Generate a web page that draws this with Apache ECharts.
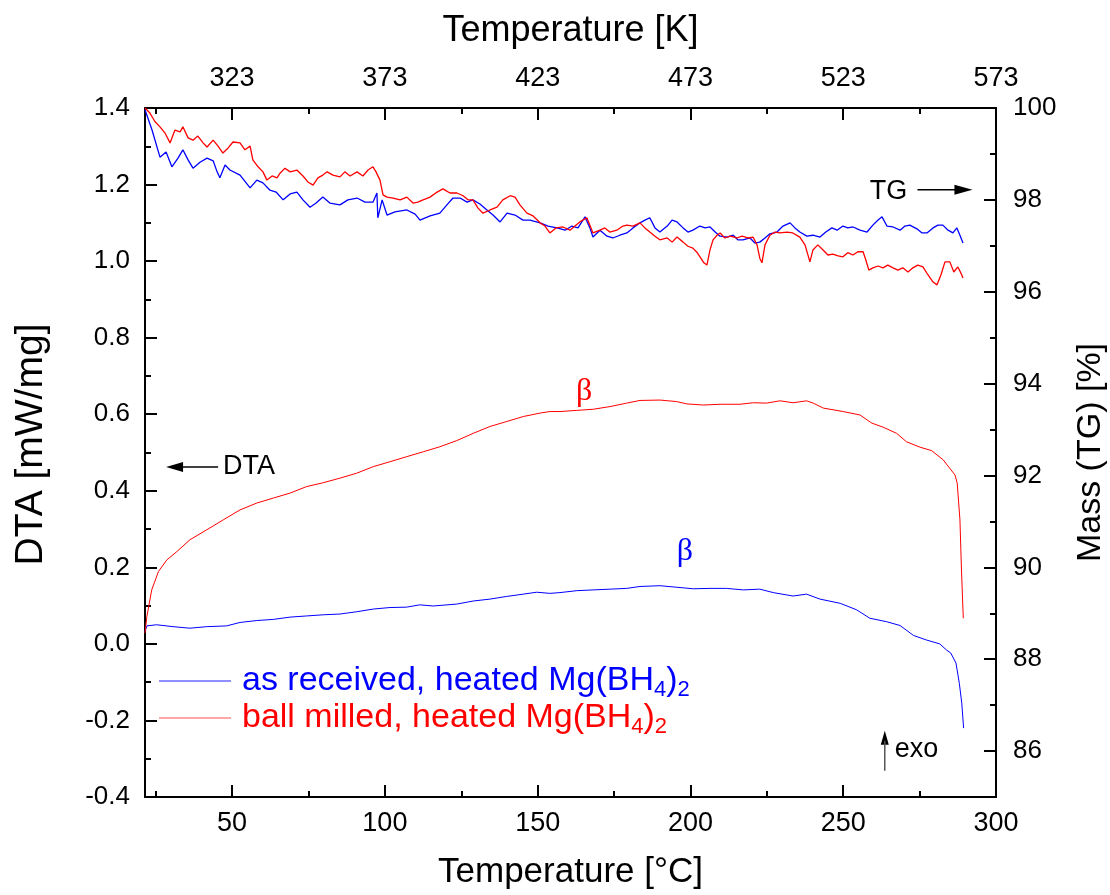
<!DOCTYPE html>
<html><head><meta charset="utf-8">
<script src="https://cdn.jsdelivr.net/npm/echarts@6/dist/echarts.min.js"></script>
<style>html,body{margin:0;padding:0;background:#fff}#c{width:1110px;height:895px}</style>
</head><body><div id="c"></div>
<script>
// ---------- data ----------
const tgAsReceivedT = [21.5,23.8,26.4,28.4,30.3,32.3,33.9,35.6,37.2,39.5,41.8,43.8,45.1,46.0,47.7,49.3,52.6,55.9,58.1,60.1,62.4,64.4,66.7,69.0,71.2,73.2,75.5,77.5,79.7,82.0,85.3,87.9,90.9,93.5,96.1,97.4,97.7,99.1,100.7,103.3,107.2,109.9,111.5,114.8,118.0,120.3,122.3,124.6,126.9,128.8,131.1,133.4,135.4,137.7,140.0,142.6,145.2,147.5,150.8,153.4,156.3,159.0,161.2,163.2,165.5,167.1,168.1,170.4,172.7,174.6,176.9,179.2,181.2,183.5,185.1,186.7,188.4,190.0,192.4,194.0,195.6,197.6,199.2,200.8,203.1,204.8,206.4,208.1,209.7,212.0,214.0,215.5,217.2,219.5,221.1,222.7,224.4,226.0,228.3,230.3,232.6,234.2,235.8,238.1,240.1,242.4,244.3,246.3,248.0,249.9,251.5,253.2,255.5,257.8,259.7,261.4,262.7,264.3,266.3,268.6,270.2,271.8,274.1,275.8,277.4,279.4,281.0,282.6,284.3,285.9,287.2,288.2,289.2];
const tgAsReceivedMass = [99.96,99.52,98.93,99.04,98.72,98.91,99.09,98.87,98.69,98.82,98.91,98.85,98.61,98.48,98.76,98.65,98.54,98.26,98.43,98.37,98.21,98.17,98.00,98.13,98.17,98.00,97.84,97.93,98.06,97.93,97.89,98.00,98.04,97.95,97.95,98.15,97.61,98.00,97.67,97.74,97.78,97.69,97.56,97.65,97.71,97.89,98.04,98.04,97.95,98.00,97.91,97.78,97.67,97.52,97.71,97.67,97.56,97.56,97.50,97.43,97.39,97.34,97.43,97.39,97.63,97.39,97.19,97.34,97.21,97.17,97.23,97.28,97.39,97.50,97.56,97.61,97.39,97.30,97.43,97.56,97.52,97.39,97.30,97.34,97.43,97.39,97.41,97.30,97.21,97.19,97.23,97.13,97.13,97.17,97.06,97.08,97.17,97.26,97.30,97.43,97.50,97.39,97.30,97.21,97.23,97.19,97.30,97.39,97.34,97.43,97.39,97.41,97.34,97.30,97.45,97.56,97.63,97.43,97.41,97.34,97.43,97.45,97.37,97.28,97.28,97.39,97.45,97.45,97.34,97.28,97.39,97.23,97.06];
const tgBallMilledT = [21.5,23.1,24.8,26.4,28.0,29.7,31.3,33.0,33.9,35.6,37.2,38.8,40.5,41.8,43.8,45.4,47.0,48.7,50.3,52.6,54.2,55.9,56.8,58.5,60.1,61.4,63.1,64.7,65.7,67.3,69.0,71.2,73.2,74.8,76.5,78.1,79.7,81.1,83.0,85.3,86.9,88.6,90.9,92.8,94.5,96.1,97.1,98.4,99.4,100.7,102.7,105.0,107.2,109.2,110.8,112.5,114.8,117.1,119.0,121.3,123.6,125.6,127.2,128.8,130.5,132.1,134.4,136.7,138.6,141.0,142.6,144.2,146.5,148.5,150.8,152.4,154.0,156.0,158.3,160.6,162.2,163.8,166.1,167.1,168.1,170.4,172.0,173.6,175.9,177.9,179.2,181.2,183.5,185.1,186.7,188.4,190.0,192.4,194.0,195.6,197.6,199.2,200.8,202.1,203.4,204.4,205.4,206.4,207.4,208.7,209.7,211.3,213.0,215.2,216.9,218.8,220.5,221.8,222.7,223.4,224.4,226.0,227.7,229.3,231.6,233.5,235.8,237.5,239.1,240.1,241.7,243.4,245.0,246.6,248.3,249.9,251.5,253.2,254.8,256.5,257.4,258.4,259.7,261.4,263.0,264.6,266.3,267.9,269.5,271.2,272.8,274.4,276.1,277.7,279.4,280.7,282.0,283.3,284.9,286.2,287.5,288.5,289.2];
const tgBallMilledMass = [100.0,99.89,99.70,99.59,99.46,99.24,99.52,99.48,99.59,99.35,99.30,99.39,99.24,99.15,99.30,99.17,99.02,99.13,99.26,99.24,99.09,99.17,98.87,98.72,98.61,98.43,98.52,98.48,98.58,98.69,98.61,98.65,98.52,98.39,98.32,98.48,98.54,98.61,98.54,98.50,98.61,98.52,98.61,98.52,98.65,98.72,98.61,98.43,98.11,98.06,98.04,98.00,98.06,97.93,97.95,98.00,98.06,98.17,98.24,98.15,98.15,98.09,98.00,98.00,97.82,97.71,97.78,97.84,98.00,98.09,98.06,97.89,97.71,97.65,97.50,97.43,97.28,97.39,97.41,97.34,97.43,97.52,97.61,97.45,97.28,97.34,97.39,97.30,97.34,97.43,97.45,97.43,97.50,97.39,97.30,97.21,97.13,97.17,97.08,97.19,97.08,96.99,96.95,96.86,96.73,96.63,96.58,96.91,97.13,97.23,97.28,97.17,97.21,97.17,97.21,97.17,97.19,97.02,96.73,96.63,97.02,97.23,97.30,97.28,97.30,97.28,97.19,97.02,96.65,96.91,97.02,96.91,96.80,96.82,96.78,96.76,96.85,96.80,96.87,96.87,96.69,96.47,96.52,96.56,96.52,96.58,96.52,96.47,96.52,96.43,96.52,96.58,96.54,96.37,96.21,96.15,96.37,96.65,96.65,96.43,96.54,96.41,96.30];
const dtaAsReceivedT = [21.5,22.1,25.3,30.7,36.2,41.7,48.2,52.6,58.1,63.5,69.0,74.4,79.8,85.3,90.8,96.2,101.7,107.1,111.4,115.8,123.5,128.9,134.4,139.9,145.3,149.7,154.0,157.3,162.8,168.2,173.7,179.1,183.5,190.0,195.5,200.9,206.4,211.8,217.3,222.7,227.1,233.6,238.0,242.4,249.0,254.4,258.7,264.2,268.6,273.0,277.3,281.6,283.8,285.2,286.9,288.0,288.8,289.4];
const dtaAsReceivedVal = [0.032,0.047,0.050,0.045,0.041,0.045,0.047,0.056,0.061,0.064,0.070,0.073,0.076,0.078,0.084,0.091,0.095,0.096,0.102,0.099,0.104,0.112,0.117,0.124,0.130,0.135,0.132,0.134,0.139,0.141,0.143,0.145,0.150,0.152,0.148,0.144,0.145,0.145,0.141,0.143,0.134,0.125,0.130,0.117,0.106,0.089,0.067,0.058,0.048,0.022,0.010,0.000,-0.016,-0.024,-0.050,-0.103,-0.155,-0.220];
const dtaBallMilledT = [21.5,22.1,23.7,25.9,28.6,31.9,36.2,41.7,47.1,52.6,58.1,63.5,69.0,74.4,79.8,85.3,90.8,96.2,101.7,107.1,112.6,118.0,123.5,128.9,134.4,139.9,145.3,150.8,154.0,157.3,162.8,168.2,173.7,179.1,183.5,190.0,195.5,198.8,204.2,209.7,216.2,220.6,224.9,229.3,233.6,238.0,240.2,243.5,250.0,255.5,259.3,263.1,267.5,270.7,275.1,278.9,282.7,286.6,287.3,288.2,288.7,289.3];
const dtaBallMilledVal = [0.028,0.071,0.141,0.189,0.219,0.241,0.272,0.298,0.324,0.350,0.368,0.381,0.394,0.411,0.421,0.433,0.446,0.463,0.476,0.489,0.502,0.515,0.531,0.550,0.568,0.581,0.594,0.603,0.607,0.607,0.610,0.613,0.620,0.629,0.636,0.637,0.633,0.627,0.624,0.626,0.626,0.630,0.629,0.635,0.630,0.635,0.629,0.616,0.607,0.598,0.577,0.566,0.550,0.528,0.514,0.505,0.481,0.441,0.420,0.324,0.193,0.067];
const celsiusTicks = [50,100,150,200,250,300];
const celsiusMinorTicks = [25,75,125,175,225,275];
const massTicks = [86,88,90,92,94,96,98,100];
const massMinorTicks = [85,87,89,91,93,95,97,99];
const legendNames = ['as received, heated Mg(BH4)2','ball milled, heated Mg(BH4)2'];
const KELVIN_OFFSET = 273;

// ---------- chart ----------
const FONT = '"Liberation Sans", Arial, sans-serif';
const BLUE = '#0000ff', RED = '#ff0000';
const X_MIN = 21.5, X_MAX = 300;
const zip = (a, b) => a.map((v, i) => [v, b[i]]);
const axisLine = {onZero: false, lineStyle: {color: '#000', width: 2}};
const tickStyle = {color: '#000', width: 2};
const yLabelStyle = {color: '#000', fontSize: 26, fontFamily: FONT};
const xLabelStyle = {color: '#000', fontSize: 27, fontFamily: FONT};

const chart = echarts.init(document.getElementById('c'), null, {renderer: 'canvas'});
const option = {
  animation: false,
  backgroundColor: '#fff',
  grid: {left: 145, right: 114, top: 108, bottom: 98, containLabel: false, outerBoundsMode: 'none'},
  xAxis: [
    {type: 'value', position: 'bottom', min: X_MIN, max: X_MAX, axisLine,
     splitLine: {show: false},
     axisTick: {inside: true, length: 12, customValues: celsiusTicks, lineStyle: tickStyle},
     axisLabel: Object.assign({customValues: celsiusTicks, margin: 13}, xLabelStyle),
     name: 'Temperature [°C]', nameLocation: 'middle', nameGap: 58,
     nameTextStyle: {color: '#000', fontSize: 35, fontFamily: FONT}},
    {type: 'value', position: 'bottom', min: X_MIN, max: X_MAX,
     axisLine: {show: false, onZero: false}, splitLine: {show: false},
     axisTick: {inside: true, length: 6, customValues: celsiusMinorTicks, lineStyle: tickStyle},
     axisLabel: {show: false}},
    {type: 'value', position: 'top', min: X_MIN, max: X_MAX, axisLine,
     splitLine: {show: false},
     axisTick: {inside: true, length: 12, customValues: celsiusTicks, lineStyle: tickStyle},
     axisLabel: Object.assign({customValues: celsiusTicks, margin: 16,
       formatter: v => String(Math.round(v + KELVIN_OFFSET))}, xLabelStyle),
     name: 'Temperature [K]', nameLocation: 'middle', nameGap: 59,
     nameTextStyle: {color: '#000', fontSize: 36, fontFamily: FONT}},
    {type: 'value', position: 'top', min: X_MIN, max: X_MAX,
     axisLine: {show: false, onZero: false}, splitLine: {show: false},
     axisTick: {inside: true, length: 6, customValues: celsiusMinorTicks, lineStyle: tickStyle},
     axisLabel: {show: false}}
  ],
  yAxis: [
    {type: 'value', position: 'left', min: -0.4, max: 1.4, interval: 0.2, axisLine,
     splitLine: {show: false},
     axisTick: {inside: true, length: 12, lineStyle: tickStyle},
     minorTick: {show: true, splitNumber: 2, length: 6, lineStyle: tickStyle},
     minorSplitLine: {show: false},
     axisLabel: Object.assign({margin: 15,
       formatter: v => (Math.abs(v) < 1e-9 ? 0 : v).toFixed(1)}, yLabelStyle),
     name: 'DTA [mW/mg]', nameLocation: 'middle', nameGap: 94,
     nameTextStyle: {color: '#000', fontSize: 39, fontFamily: FONT, padding: [0, 0, 0, 16]}},
    {type: 'value', position: 'right', min: 85, max: 100, axisLine,
     splitLine: {show: false},
     axisTick: {inside: true, length: 12, customValues: massTicks, lineStyle: tickStyle},
     axisLabel: Object.assign({customValues: massTicks, margin: 17}, yLabelStyle),
     name: 'Mass (TG) [%]', nameLocation: 'middle', nameGap: 78,
     nameTextStyle: {color: '#000', fontSize: 34, fontFamily: FONT}},
    {type: 'value', position: 'right', min: 85, max: 100,
     axisLine: {show: false, onZero: false}, splitLine: {show: false},
     axisTick: {inside: true, length: 6, customValues: massMinorTicks, lineStyle: tickStyle},
     axisLabel: {show: false}}
  ],
  legend: {
    data: [
      {name: legendNames[0], icon: 'rect', itemStyle: {color: '#6a6aff'}},
      {name: legendNames[1], icon: 'rect', itemStyle: {color: '#ff8a8a'}}
    ],
    orient: 'vertical', left: 159, top: 664, padding: 0,
    itemWidth: 72, itemHeight: 1.5, itemGap: 0, selectedMode: false,
    formatter: name => name === legendNames[0]
      ? '{g| }{b|as received, heated Mg(BH}{bs|4}{b|)}{bs|2}'
      : '{g| }{r|ball milled, heated Mg(BH}{rs|4}{r|)}{rs|2}',
    textStyle: {fontFamily: FONT, fontSize: 34, rich: {
      g: {width: 6},
      b: {color: BLUE, fontSize: 34, fontFamily: FONT, lineHeight: 40},
      bs: {color: BLUE, fontSize: 22, fontFamily: FONT, lineHeight: 22, verticalAlign: 'bottom'},
      r: {color: RED, fontSize: 34, fontFamily: FONT, lineHeight: 40},
      rs: {color: RED, fontSize: 22, fontFamily: FONT, lineHeight: 22, verticalAlign: 'bottom'}
    }}
  },
  series: [
    {name: 'TG ' + legendNames[0], type: 'line', xAxisIndex: 0, yAxisIndex: 1, symbol: 'none',
     data: zip(tgAsReceivedT, tgAsReceivedMass), lineStyle: {color: BLUE, width: 1.3}, itemStyle: {color: BLUE}},
    {name: 'TG ' + legendNames[1], type: 'line', xAxisIndex: 0, yAxisIndex: 1, symbol: 'none',
     data: zip(tgBallMilledT, tgBallMilledMass), lineStyle: {color: RED, width: 1.3}, itemStyle: {color: RED}},
    {name: legendNames[0], type: 'line', xAxisIndex: 0, yAxisIndex: 0, symbol: 'none',
     data: zip(dtaAsReceivedT, dtaAsReceivedVal), lineStyle: {color: BLUE, width: 1}, itemStyle: {color: BLUE}},
    {name: legendNames[1], type: 'line', xAxisIndex: 0, yAxisIndex: 0, symbol: 'none',
     data: zip(dtaBallMilledT, dtaBallMilledVal), lineStyle: {color: RED, width: 1}, itemStyle: {color: RED}}
  ]
};
chart.setOption(option);

// ---------- annotations, anchored in data coordinates (°C, DTA) ----------
const P = (t, v) => chart.convertToPixel({xAxisIndex: 0, yAxisIndex: 0}, [t, v]);
const annoFont = 'normal 27px ' + FONT;
const g = [];
// TG -> arrow
const tg = P(264.8, 1.181);
g.push({type: 'text', x: tg[0], y: tg[1], style: {text: 'TG', font: annoFont, fill: '#000', align: 'center', verticalAlign: 'middle'}});
g.push({type: 'line', shape: {x1: tg[0] + 29, y1: tg[1] - 2, x2: tg[0] + 70, y2: tg[1] - 2}, style: {stroke: '#000', lineWidth: 1.5}});
g.push({type: 'polygon', shape: {points: [[tg[0] + 84, tg[1] - 2], [tg[0] + 66, tg[1] - 7], [tg[0] + 66, tg[1] + 3]]}, style: {fill: '#000'}});
// <- DTA
const dt = P(28.4, 0.462);
g.push({type: 'polygon', shape: {points: [[dt[0], dt[1]], [dt[0] + 17, dt[1] - 5], [dt[0] + 17, dt[1] + 5]]}, style: {fill: '#000'}});
g.push({type: 'line', shape: {x1: dt[0] + 14, y1: dt[1], x2: dt[0] + 52, y2: dt[1]}, style: {stroke: '#000', lineWidth: 1.5}});
g.push({type: 'text', x: dt[0] + 57, y: dt[1], style: {text: 'DTA', font: annoFont, fill: '#000', align: 'left', verticalAlign: 'middle'}});
// beta labels
const bR = P(165.2, 0.658), bB = P(198.2, 0.240);
g.push({type: 'text', x: bR[0], y: bR[1], style: {text: 'β', font: 'normal 32px "Liberation Serif", serif', fill: RED, align: 'center', verticalAlign: 'middle'}});
g.push({type: 'text', x: bB[0], y: bB[1], style: {text: 'β', font: 'normal 32px "Liberation Serif", serif', fill: BLUE, align: 'center', verticalAlign: 'middle'}});
// exo arrow
const ex = P(263.6, -0.227);
g.push({type: 'polygon', shape: {points: [[ex[0], ex[1]], [ex[0] - 4, ex[1] + 14], [ex[0] + 4, ex[1] + 14]]}, style: {fill: '#000'}});
g.push({type: 'line', shape: {x1: ex[0], y1: ex[1] + 10, x2: ex[0], y2: ex[1] + 40}, style: {stroke: '#555', lineWidth: 1.5}});
g.push({type: 'text', x: ex[0] + 10, y: ex[1] + 19, style: {text: 'exo', font: annoFont, fill: '#000', align: 'left', verticalAlign: 'middle'}});
chart.setOption({graphic: g});
</script></body></html>
